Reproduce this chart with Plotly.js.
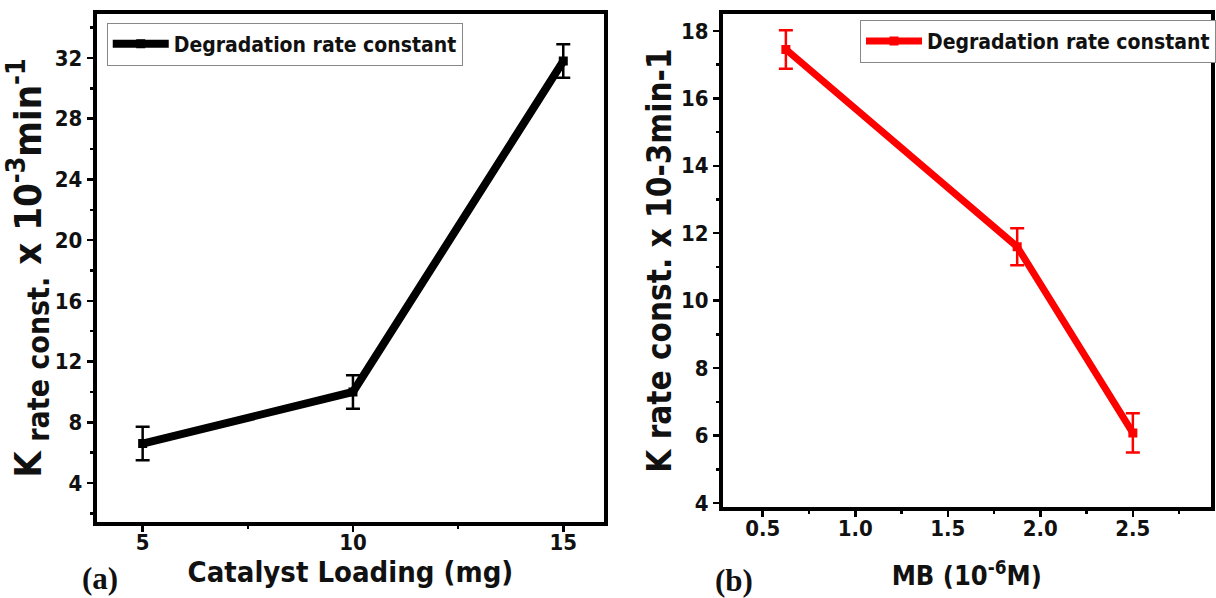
<!DOCTYPE html>
<html><head><meta charset="utf-8">
<script src="https://cdn.plot.ly/plotly-3.0.1.min.js"></script>
<style>html,body{margin:0;padding:0;background:#fff}</style>
</head><body><div id="chart" style="width:1216px;height:598px"></div>
<script>
// Panel (a)
const loading = [5, 10, 15];
const kLoading = [6.6, 10.0, 31.8];
const kLoadingErr = [1.1, 1.1, 1.1];
// Panel (b)
const mb = [0.625, 1.875, 2.5];
const kMB = [17.45, 11.6, 6.08];
const kMBErr = [0.57, 0.55, 0.58];

const F = '"DejaVu Sans Condensed", "Liberation Sans", Arial, sans-serif';

const traces = [
  {x: loading, y: kLoading, type: 'scatter', mode: 'lines+markers', name: 'Degradation rate constant',
   xaxis: 'x', yaxis: 'y', line: {color: '#000', width: 8}, marker: {symbol: 'square', size: 9, color: '#000'},
   error_y: {type: 'data', array: kLoadingErr, visible: true, color: '#000', thickness: 2.5, width: 7},
   legend: 'legend'},
  {x: mb, y: kMB, type: 'scatter', mode: 'lines+markers', name: 'Degradation rate constant',
   xaxis: 'x2', yaxis: 'y2', line: {color: '#ff0000', width: 7}, marker: {symbol: 'square', size: 9, color: '#ff0000'},
   error_y: {type: 'data', array: kMBErr, visible: true, color: '#ff0000', thickness: 2.5, width: 7},
   legend: 'legend2'}
];

function ax(extra) {
  return Object.assign({showline: true, linecolor: '#000', linewidth: 4, mirror: true, showgrid: false, zeroline: false,
    ticks: 'outside', ticklen: 6, tickwidth: 2.5, tickcolor: '#000',
    tickfont: {family: F, size: 22, color: '#111', weight: 'bold'}}, extra);
}
function mn(vals) { return {ticks: 'outside', tickvals: vals, ticklen: 3, tickwidth: 2.5, tickcolor: '#000', showgrid: false}; }
function leg(x, y) {
  return {bgcolor: '#fff', bordercolor: '#888', borderwidth: 1, x: x, y: y, itemwidth: 56,
    font: {family: F, size: 21, color: '#111', weight: 'bold'}, xanchor: 'left', yanchor: 'top'};
}

const layout = {
  width: 1216, height: 598, margin: {l: 0, r: 0, t: 0, b: 0},
  paper_bgcolor: '#fff', plot_bgcolor: '#fff', showlegend: true,
  xaxis: ax({domain: [0.0798, 0.498], range: [3.91, 15.97], tickvals: loading, ticklabelstandoff: -8,
    minor: mn([7.5, 12.5]),
    title: {text: 'Catalyst Loading (mg)', font: {family: F, size: 29, color: '#111', weight: 'bold'}, standoff: 4}}),
  yaxis: ax({domain: [0.127, 0.9766], range: [1.43, 34.9], dtick: 4, tick0: 0,
    minor: mn([2, 6, 10, 14, 18, 22, 26, 30, 34]),
    title: {text: 'K<sub><span style="font-size:30px"> rate const.</span></sub> x 10<sup>-3</sup>min<sup>-1</sup>', font: {family: F, size: 38, color: '#111', weight: 'bold'}, standoff: 4}}),
  xaxis2: ax({anchor: 'y2', domain: [0.596, 0.998], range: [0.285, 2.92], dtick: 0.5, tick0: 0, tickformat: '.1f', ticklabelstandoff: -8,
    minor: mn([0.75, 1.25, 1.75, 2.25, 2.75]),
    title: {text: 'MB (10<sup>-6</sup>M)', font: {family: F, size: 27, color: '#111', weight: 'bold'}, standoff: 28}}),
  yaxis2: ax({anchor: 'x2', domain: [0.152, 0.9766], range: [3.88, 18.5], dtick: 2, tick0: 0,
    minor: mn([5, 7, 9, 11, 13, 15, 17]),
    title: {text: 'K rate const. x 10-3min-1', font: {family: F, size: 33, color: '#111', weight: 'bold'}, standoff: 0}}),
  legend: leg(0.088, 0.962),
  legend2: leg(0.709, 0.967),
  annotations: [
    {text: '(a)', xref: 'paper', yref: 'paper', x: 100 / 1216, y: 1 - 578 / 598, xanchor: 'center', yanchor: 'middle', showarrow: false,
     font: {family: '"Liberation Serif", "Times New Roman", serif', size: 31, color: '#111', weight: 'bold'}},
    {text: '(b)', xref: 'paper', yref: 'paper', x: 736 / 1216, y: 1 - 580 / 598, xanchor: 'center', yanchor: 'middle', showarrow: false,
     font: {family: '"Liberation Serif", "Times New Roman", serif', size: 31, color: '#111', weight: 'bold'}}
  ]
};

Plotly.newPlot('chart', traces, layout, {displayModeBar: false, staticPlot: true});
</script></body></html>
